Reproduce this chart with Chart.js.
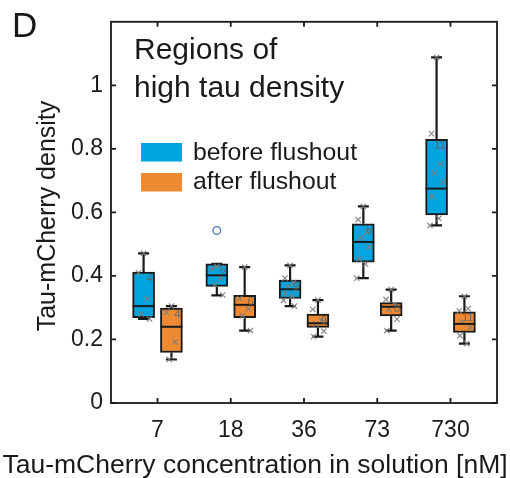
<!DOCTYPE html>
<html>
<head>
<meta charset="utf-8">
<script src="https://cdn.jsdelivr.net/npm/chart.js@4"></script>
<style>
  html, body { margin: 0; padding: 0; background: #fff; }
  #wrap { width: 510px; height: 478px; }
</style>
</head>
<body>
<div id="wrap"><canvas id="chart" width="510" height="478"></canvas></div>
<script>
// concentrations (nM)
const categories = ["7", "18", "36", "73", "730"];
const yTicks = [0, 0.2, 0.4, 0.6, 0.8, 1];

// before flushout: box stats
const beforeWhiskLo = [0.265, 0.339, 0.305, 0.393, 0.559];
const beforeQ1      = [0.269, 0.367, 0.329, 0.443, 0.592];
const beforeMedian  = [0.305, 0.402, 0.358, 0.507, 0.675];
const beforeQ3      = [0.412, 0.438, 0.387, 0.564, 0.830];
const beforeWhiskHi = [0.471, 0.438, 0.433, 0.619, 1.088];
const beforeCount   = [4, 6, 9, 6, 11];
const beforeOutliers = [[], [0.543], [], [], []];
const beforePoints = [
  [0.471, 0.41, 0.329, 0.28, 0.265],
  [0.43, 0.422, 0.393, 0.373, 0.34],
  [0.433, 0.393, 0.38, 0.366, 0.357, 0.345, 0.336, 0.323, 0.305],
  [0.619, 0.577, 0.538, 0.52, 0.491, 0.453, 0.437, 0.393],
  [1.088, 0.848, 0.753, 0.724, 0.695, 0.65, 0.581, 0.559]
];

// after flushout: box stats
const afterWhiskLo = [0.137, 0.228, 0.209, 0.228, 0.187];
const afterQ1      = [0.159, 0.269, 0.238, 0.274, 0.222];
const afterMedian  = [0.240, 0.309, 0.251, 0.303, 0.249];
const afterQ3      = [0.299, 0.339, 0.280, 0.316, 0.287];
const afterWhiskHi = [0.305, 0.428, 0.324, 0.357, 0.336];
const afterCount   = [4, 6, 9, 8, 11];
const afterPoints = [
  [0.305, 0.285, 0.192, 0.137],
  [0.428, 0.329, 0.297, 0.274, 0.228],
  [0.324, 0.295, 0.259, 0.249, 0.226, 0.209],
  [0.357, 0.326, 0.31, 0.295, 0.264, 0.228],
  [0.336, 0.29, 0.297, 0.254, 0.238, 0.212, 0.187]
];

const FONT = "'Liberation Sans', Arial, Helvetica, sans-serif";
const BLUE = "#00a5df";
const ORANGE = "#ee8a31";
const INK = "#1a1a1a";
const SHIFT = 0.19;      // box offset from category centre
const HALF = 0.15;       // half box width in x units
const jitter = [0, -0.07, 0.05, -0.03, 0.08, -0.06, 0.03, -0.09, 0.06];

Chart.defaults.font.family = FONT;

function boxData(q1, q3, dx) {
    return q1.map((v, i) => ({ x: i + 1 + dx, y: [v, q3[i]] }));
}
function pointData(groups, dx) {
    const out = [];
    groups.forEach((g, i) => g.forEach((v, j) => out.push({ x: i + 1 + dx + jitter[j % jitter.length], y: v })));
    return out;
}
function outlierData(groups, dx) {
    const out = [];
    groups.forEach((g, i) => g.forEach(v => out.push({ x: i + 1 + dx, y: v })));
    return out;
}

const groups = [
    { dx: -SHIFT, lo: beforeWhiskLo, q1: beforeQ1, med: beforeMedian, q3: beforeQ3, hi: beforeWhiskHi, n: beforeCount },
    { dx: SHIFT, lo: afterWhiskLo, q1: afterQ1, med: afterMedian, q3: afterQ3, hi: afterWhiskHi, n: afterCount }
];

// whiskers, medians, counts
const boxPlugin = {
    id: "boxParts",
    beforeDatasetsDraw(chart) {
        const { ctx, scales: { x, y } } = chart;
        ctx.save();
        ctx.strokeStyle = INK;
        ctx.lineWidth = 2.2;
        groups.forEach(g => {
            g.lo.forEach((lo, i) => {
                const cx = x.getPixelForValue(i + 1 + g.dx);
                const capW = (x.getPixelForValue(HALF) - x.getPixelForValue(0)) * 0.5;
                ctx.beginPath();
                ctx.moveTo(cx, y.getPixelForValue(lo));
                ctx.lineTo(cx, y.getPixelForValue(g.q1[i]));
                ctx.moveTo(cx, y.getPixelForValue(g.q3[i]));
                ctx.lineTo(cx, y.getPixelForValue(g.hi[i]));
                ctx.moveTo(cx - capW, y.getPixelForValue(lo));
                ctx.lineTo(cx + capW, y.getPixelForValue(lo));
                ctx.moveTo(cx - capW, y.getPixelForValue(g.hi[i]));
                ctx.lineTo(cx + capW, y.getPixelForValue(g.hi[i]));
                ctx.stroke();
            });
        });
        ctx.restore();
    },
    afterDatasetsDraw(chart) {
        const { ctx, scales: { x, y } } = chart;
        ctx.save();
        ctx.strokeStyle = INK;
        ctx.lineWidth = 2;
        groups.forEach(g => {
            g.med.forEach((m, i) => {
                const x0 = x.getPixelForValue(i + 1 + g.dx - HALF);
                const x1 = x.getPixelForValue(i + 1 + g.dx + HALF);
                const py = y.getPixelForValue(m);
                ctx.beginPath();
                ctx.moveTo(x0, py);
                ctx.lineTo(x1, py);
                ctx.stroke();
            });
            // small gray n labels
            ctx.fillStyle = "rgba(100,100,100,0.9)";
            ctx.font = "11px " + FONT;
            ctx.textAlign = "right";
            ctx.textBaseline = "top";
            g.n.forEach((n, i) => {
                ctx.fillText(String(n), x.getPixelForValue(i + 1 + g.dx + HALF) - 2, y.getPixelForValue(g.q3[i]) + 1);
            });
        });
        ctx.restore();
    }
};

// MATLAB style frame with inward ticks, texts and legend
const framePlugin = {
    id: "frame",
    afterDraw(chart) {
        const { ctx, chartArea: a, scales: { x, y } } = chart;
        ctx.save();
        ctx.strokeStyle = INK;
        ctx.lineWidth = 1.8;
        ctx.strokeRect(a.left, a.top, a.right - a.left, a.bottom - a.top);
        ctx.beginPath();
        yTicks.forEach(v => {
            const py = y.getPixelForValue(v);
            ctx.moveTo(a.left, py); ctx.lineTo(a.left + 5, py);
            ctx.moveTo(a.right, py); ctx.lineTo(a.right - 5, py);
        });
        categories.forEach((c, i) => {
            const px = x.getPixelForValue(i + 1);
            ctx.moveTo(px, a.bottom); ctx.lineTo(px, a.bottom - 5);
            ctx.moveTo(px, a.top); ctx.lineTo(px, a.top + 5);
        });
        ctx.stroke();

        ctx.fillStyle = INK;
        ctx.textAlign = "left";
        ctx.textBaseline = "alphabetic";
        ctx.font = "35px " + FONT;
        ctx.fillText("D", 12, 37);

        ctx.font = "30px " + FONT;
        ctx.fillText("Regions of", 134, 59);
        ctx.fillText("high tau density", 134, 97);

        ctx.fillStyle = BLUE;
        ctx.fillRect(141, 143, 41, 18.5);
        ctx.fillStyle = ORANGE;
        ctx.fillRect(141, 173, 41, 18.5);
        ctx.fillStyle = INK;
        ctx.font = "24.8px " + FONT;
        ctx.fillText("before flushout", 193, 160);
        ctx.fillText("after flushout", 193, 189);

        ctx.font = "26.5px " + FONT;
        ctx.textAlign = "center";
        ctx.fillText("Tau-mCherry concentration in solution [nM]", 255, 473);

        ctx.translate(55, 216);
        ctx.rotate(-Math.PI / 2);
        ctx.font = "25px " + FONT;
        ctx.fillText("Tau-mCherry density", 0, 0);
        ctx.restore();
    }
};

new Chart(document.getElementById("chart"), {
    type: "bar",
    data: {
        datasets: [
            {
                type: "scatter", label: "points before",
                data: pointData(beforePoints, -SHIFT),
                pointStyle: "crossRot", radius: 3.8, borderWidth: 1.2,
                borderColor: "rgba(125,125,125,0.9)", order: 0
            },
            {
                type: "scatter", label: "points after",
                data: pointData(afterPoints, SHIFT),
                pointStyle: "crossRot", radius: 3.8, borderWidth: 1.2,
                borderColor: "rgba(125,125,125,0.9)", order: 0
            },
            {
                type: "scatter", label: "outliers",
                data: outlierData(beforeOutliers, -SHIFT),
                pointStyle: "circle", radius: 3.8, borderWidth: 1.3,
                borderColor: "#4f78bf", backgroundColor: "rgba(0,0,0,0)", order: 0
            },
            {
                label: "before flushout",
                data: boxData(beforeQ1, beforeQ3, -SHIFT),
                backgroundColor: BLUE, borderColor: INK, borderWidth: 2,
                borderSkipped: false, barThickness: 22, grouped: false, order: 1
            },
            {
                label: "after flushout",
                data: boxData(afterQ1, afterQ3, SHIFT),
                backgroundColor: ORANGE, borderColor: INK, borderWidth: 2,
                borderSkipped: false, barThickness: 22, grouped: false, order: 1
            }
        ]
    },
    options: {
        responsive: false,
        animation: false,
        layout: { padding: { top: 17, right: 13, left: 0, bottom: 0 } },
        plugins: { legend: { display: false }, tooltip: { enabled: false } },
        scales: {
            x: {
                type: "linear", min: 0.365, max: 5.635, offset: false,
                grid: { display: false, drawTicks: false, offset: false },
                border: { display: false },
                afterBuildTicks: s => { s.ticks = categories.map((c, i) => ({ value: i + 1 })); },
                afterFit: s => { s.height = 75; },
                ticks: {
                    autoSkip: false, maxRotation: 0, padding: 14, color: INK,
                    font: { size: 23 },
                    callback: v => categories[v - 1]
                }
            },
            y: {
                type: "linear", min: 0, max: 1.2,
                grid: { display: false, drawTicks: false },
                border: { display: false },
                afterBuildTicks: s => { s.ticks = yTicks.map(v => ({ value: v })); },
                afterFit: s => { s.width = 111; },
                ticks: {
                    padding: 8, color: INK, font: { size: 23 },
                    callback: v => String(+v.toFixed(1))
                }
            }
        }
    },
    plugins: [boxPlugin, framePlugin]
});
</script>
</body>
</html>
